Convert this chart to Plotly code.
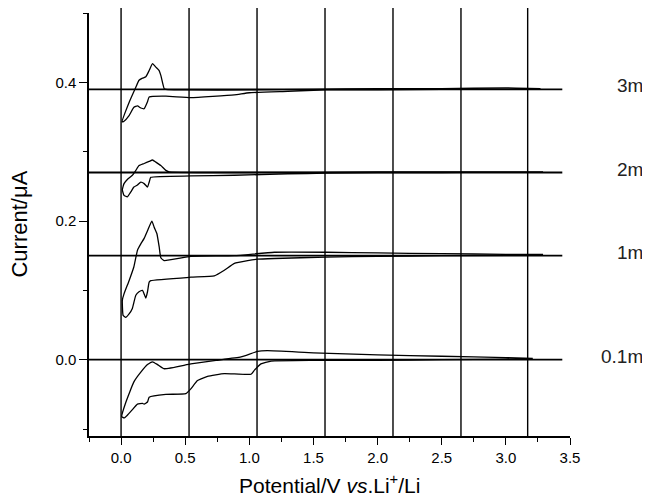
import plotly.graph_objects as go

# ---------------- data ----------------
labels = ["3m", "2m", "1m", "0.1m"]
baselines = [0.39, 0.27, 0.15, 0.0]
grid_x = [0.0, 0.53, 1.06, 1.59, 2.12, 2.65, 3.17]
baseline_x_end = 3.44

x_ticks = [0.0, 0.5, 1.0, 1.5, 2.0, 2.5, 3.0, 3.5]
y_ticks = [0.0, 0.2, 0.4]

# 3 mV/s (lower branch right->left, then upper branch left->right)
cv_3m_x = [3.27, 2.5, 2.0, 1.6, 1.3, 1.0, 0.883, 0.544, 0.35, 0.219, 0.206, 0.18, 0.154, 0.128, 0.10, 0.0625, 0.023, 0.008,
           0.0625, 0.115, 0.14, 0.167, 0.193, 0.219, 0.245, 0.271, 0.297, 0.31, 0.336, 0.349, 0.5, 1.0, 1.5, 2.0, 2.5, 3.0, 3.27]
cv_3m_y = [0.390, 0.390, 0.389, 0.389, 0.387, 0.385, 0.382, 0.378, 0.380, 0.379, 0.372, 0.362, 0.363, 0.366, 0.364, 0.352, 0.344, 0.343,
           0.371, 0.393, 0.403, 0.406, 0.408, 0.417, 0.427, 0.422, 0.417, 0.410, 0.391, 0.390, 0.389, 0.389, 0.390, 0.391, 0.391, 0.392, 0.391]

# 2 mV/s
cv_2m_x = [3.29, 2.5, 2.0, 1.6, 1.3, 0.883, 0.544, 0.232, 0.219, 0.206, 0.18, 0.154, 0.128, 0.10, 0.076, 0.049, 0.023, 0.01,
           0.023, 0.049, 0.088, 0.115, 0.14, 0.18, 0.219, 0.245, 0.271, 0.31, 0.349, 0.375, 0.6, 1.0, 1.5, 2.0, 2.5, 3.0, 3.29]
cv_2m_y = [0.271, 0.270, 0.270, 0.269, 0.268, 0.266, 0.265, 0.263, 0.256, 0.249, 0.254, 0.256, 0.252, 0.249, 0.242, 0.235, 0.237, 0.245,
           0.254, 0.260, 0.266, 0.273, 0.280, 0.283, 0.286, 0.288, 0.285, 0.280, 0.273, 0.271, 0.270, 0.270, 0.270, 0.271, 0.271, 0.271, 0.271]

# 1 mV/s
cv_1m_x = [3.29, 2.5, 2.0, 1.6, 1.195, 1.065, 0.987, 0.883, 0.805, 0.727, 0.544, 0.232, 0.219, 0.206, 0.193, 0.167, 0.14, 0.115, 0.088, 0.0625, 0.036, 0.016, 0.01,
           0.023, 0.0625, 0.10, 0.128, 0.154, 0.18, 0.206, 0.24, 0.258, 0.279, 0.297, 0.31, 0.336, 0.544, 0.883, 1.195, 1.6, 2.0, 2.5, 3.0, 3.29]
cv_1m_y = [0.151, 0.150, 0.149, 0.148, 0.146, 0.145, 0.143, 0.139, 0.129, 0.121, 0.119, 0.114, 0.112, 0.098, 0.089, 0.100, 0.098, 0.093, 0.074, 0.066, 0.061, 0.064, 0.086,
           0.095, 0.114, 0.134, 0.158, 0.167, 0.175, 0.186, 0.200, 0.191, 0.182, 0.163, 0.147, 0.143, 0.149, 0.150, 0.155, 0.155, 0.154, 0.153, 0.152, 0.152]

# 0.1 mV/s
cv_01m_x = [3.21, 2.5, 2.0, 1.5, 1.17, 1.09, 1.04, 1.013, 0.805, 0.674, 0.596, 0.544, 0.505, 0.349, 0.219, 0.206, 0.18, 0.167, 0.128, 0.088, 0.049, 0.023, 0.005,
            0.036, 0.10, 0.154, 0.206, 0.245, 0.284, 0.336, 0.544, 0.74, 0.935, 1.065, 1.14, 1.5, 2.0, 2.5, 3.0, 3.21]
cv_01m_y = [0.001, 0.000, -0.001, -0.001, -0.002, -0.006, -0.015, -0.021, -0.020, -0.024, -0.030, -0.042, -0.049, -0.050, -0.054, -0.061, -0.064, -0.063, -0.064, -0.072, -0.080, -0.084, -0.082,
            -0.062, -0.032, -0.018, -0.007, -0.003, -0.007, -0.013, -0.006, -0.001, 0.004, 0.012, 0.013, 0.010, 0.007, 0.005, 0.003, 0.002]

series_x = [cv_3m_x, cv_2m_x, cv_1m_x, cv_01m_x]
series_y = [cv_3m_y, cv_2m_y, cv_1m_y, cv_01m_y]

# ---------------- figure ----------------
FONT = "Liberation Sans, Arial, sans-serif"
fig = go.Figure()

for sx, sy, name in zip(series_x, series_y, labels):
    fig.add_trace(go.Scatter(x=sx, y=sy, mode="lines", name=name,
                             line=dict(color="black", width=1.3, shape="spline", smoothing=0.4),
                             showlegend=False, hoverinfo="skip"))

shapes = []
for gx in grid_x:
    shapes.append(dict(type="line", xref="x", yref="paper", x0=gx, x1=gx, y0=0, y1=1.012,
                       line=dict(color="black", width=1.4), layer="above"))
for by in baselines:
    shapes.append(dict(type="line", xref="x", yref="y", x0=-0.25, x1=baseline_x_end, y0=by, y1=by,
                       line=dict(color="black", width=1.8), layer="above"))

annotations = []
for lab, by in zip(labels, baselines):
    annotations.append(dict(text=lab, x=1.156, xref="paper", y=by + 0.005, yref="y",
                            xanchor="right", yanchor="middle", showarrow=False,
                            font=dict(family=FONT, size=19, color="#222222")))
annotations.append(dict(text="Potential/V <i>vs</i>.Li<sup>+</sup>/Li", x=0.5, xref="paper", y=-0.113, yref="paper",
                        xanchor="center", yanchor="middle", showarrow=False,
                        font=dict(family=FONT, size=21, color="black")))
annotations.append(dict(text="Current/μA", x=-0.1455, xref="paper", y=0.5, yref="paper", textangle=-90,
                        xanchor="center", yanchor="middle", showarrow=False,
                        font=dict(family=FONT, size=22, color="black")))

fig.update_layout(
    width=642, height=492,
    margin=dict(l=81, r=80, t=5, b=64),
    paper_bgcolor="white", plot_bgcolor="white",
    shapes=shapes, annotations=annotations,
    xaxis=dict(range=[-0.25, 3.5], tickvals=x_ticks, tickformat=".1f",
               showgrid=False, zeroline=False, showline=True, linecolor="black", linewidth=1.5,
               ticks="outside", ticklen=7, tickwidth=1.3, tickcolor="black",
               minor=dict(dtick=0.25, tick0=0, ticks="outside", ticklen=4, tickwidth=1.3, tickcolor="black"),
               tickfont=dict(family=FONT, size=15, color="black")),
    yaxis=dict(range=[-0.11, 0.5], tickvals=y_ticks, tickformat=".1f",
               showgrid=False, zeroline=False, showline=True, linecolor="black", linewidth=1.5,
               ticks="outside", ticklen=8, tickwidth=1.3, tickcolor="black",
               minor=dict(dtick=0.1, tick0=0, ticks="outside", ticklen=4, tickwidth=1.3, tickcolor="black"),
               tickfont=dict(family=FONT, size=15, color="black")),
)

fig.write_html("out.html")
